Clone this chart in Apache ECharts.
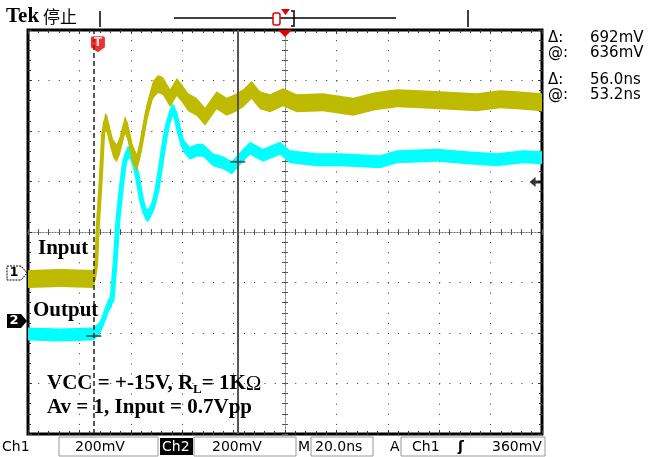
<!DOCTYPE html>
<html>
<head>
<meta charset="utf-8">
<title>Tek</title>
<script src="https://cdn.jsdelivr.net/npm/echarts@6/dist/echarts.min.js"></script>
<style>
  html, body { margin: 0; padding: 0; background: #fff; }
  #chart { width: 650px; height: 457px; }
</style>
</head>
<body>
<div id="chart"></div>
<script>
  // time in ns (20 ns/div, trigger point = 0), level in screen divisions from the centre line
  const ch1Time  = [-100, -87.5, -74.3, -73.5, -72.8, -71.7, -70.8, -70.0, -69.2, -68.1, -66.9, -65.5, -64.2, -62.3, -61.1, -59.5, -57.7, -56.4, -53.8, -51.4, -49.4, -47.5, -44.7, -42.1, -40.1, -37.7, -34.4, -31.1, -29.2, -26.6, -22.7, -19.5, -16.3, -13.0, -9.7, -5.8, -0.8, 4.6, 14.8, 26.5, 35.0, 43.6, 52.5, 60.3, 74.7, 83.7, 90.3, 100];
  const ch1Level = [-0.93, -0.91, -0.93, -0.65, 0.14, 1.03, 1.92, 2.18, 2.14, 1.88, 1.66, 1.56, 1.72, 2.12, 1.98, 1.58, 1.37, 1.62, 2.36, 2.81, 2.93, 2.89, 2.65, 2.87, 2.75, 2.57, 2.48, 2.28, 2.42, 2.61, 2.48, 2.55, 2.65, 2.81, 2.61, 2.55, 2.67, 2.55, 2.57, 2.48, 2.59, 2.65, 2.63, 2.61, 2.57, 2.63, 2.61, 2.57];

  const ch2Time  = [-100, -87.5, -74.7, -72.0, -70.4, -68.9, -67.3, -66.1, -65.0, -63.8, -62.6, -61.5, -60.3, -59.1, -57.7, -55.8, -54.5, -53.3, -51.4, -49.8, -48.0, -46.7, -45.5, -43.9, -42.8, -41.6, -39.7, -37.0, -34.2, -31.9, -28.0, -24.1, -20.7, -16.3, -13.6, -8.6, -1.9, 1.9, 12.5, 21.4, 37.0, 43.6, 59.1, 70.8, 82.5, 92.6, 100];
  const ch2Level = [-2.02, -2.04, -2.02, -1.90, -1.70, -1.47, -1.35, -0.61, 0.24, 0.83, 1.33, 1.56, 1.58, 1.43, 1.17, 0.63, 0.38, 0.32, 0.50, 0.83, 1.43, 1.86, 2.16, 2.42, 2.36, 2.08, 1.72, 1.56, 1.62, 1.62, 1.43, 1.37, 1.27, 1.52, 1.66, 1.52, 1.66, 1.49, 1.43, 1.43, 1.39, 1.49, 1.52, 1.47, 1.43, 1.49, 1.47];

  const cursorTime  = [-74.4, -18.4];
  const cursorLevel = [-2.06, 1.39];
  const triggerMark = [-72.8, 3.72];
  const trigLevelMark = [97.5, 0.99];

  const readLabels = ['Δ:', '@:', 'Δ:', '@:'];
  const readValues = ['692mV', '636mV', '56.0ns', '53.2ns'];

  const yellow = '#bdba00';
  const cyan = '#00ffff';

  let myChart = echarts.init(document.getElementById('chart'));

  function frameX(pos, grid) {
    return {
      type: 'value', min: -100, max: 100, interval: 20, position: pos,
      axisLine: { show: false, onZero: false },
      axisTick: { show: true, inside: true, length: 4, lineStyle: { color: '#333' } },
      minorTick: { show: true, splitNumber: 5, length: 3, lineStyle: { color: '#333' } },
      axisLabel: { show: false },
      splitLine: { show: grid, lineStyle: { color: '#333', width: 1, type: [1, 9.1] } }
    };
  }
  function frameY(pos, grid) {
    return {
      type: 'value', min: -4, max: 4, interval: 1, position: pos,
      axisLine: { show: false, onZero: false },
      axisTick: { show: true, inside: true, length: 4, lineStyle: { color: '#333' } },
      minorTick: { show: true, splitNumber: 5, length: 3, lineStyle: { color: '#333' } },
      axisLabel: { show: false },
      splitLine: { show: grid, lineStyle: { color: '#333', width: 1, type: [1, 9.28] } }
    };
  }
  // the centre cross of the graticule, ticks on both sides
  function centreX(pos) {
    return {
      type: 'value', min: -100, max: 100, interval: 20, position: pos,
      axisLine: { show: true, onZero: true, onZeroAxisIndex: 0, lineStyle: { color: '#777', width: 1, type: [1, 2] } },
      axisTick: { show: true, length: 3, lineStyle: { color: '#555' } },
      minorTick: { show: true, splitNumber: 5, length: 3, lineStyle: { color: '#555' } },
      axisLabel: { show: false },
      splitLine: { show: false }
    };
  }
  function centreY(pos) {
    return {
      type: 'value', min: -4, max: 4, interval: 1, position: pos,
      axisLine: { show: true, onZero: true, onZeroAxisIndex: 0, lineStyle: { color: '#777', width: 1, type: [1, 2] } },
      axisTick: { show: true, length: 3, lineStyle: { color: '#555' } },
      minorTick: { show: true, splitNumber: 5, length: 3, lineStyle: { color: '#555' } },
      axisLabel: { show: false },
      splitLine: { show: false }
    };
  }

  // noisy trace: vertical band around the read levels plus a core line
  function trace(name, times, levels, color, halfBand, core) {
    return {
      name: name, type: 'custom', z: 3, silent: true,
      data: [[times[0], levels[0]]],
      renderItem: function (params, api) {
        let pts = times.map((t, i) => api.coord([t, levels[i]]));
        let up = pts.map(p => [p[0], p[1] - halfBand]);
        let lo = pts.map(p => [p[0], p[1] + halfBand]).reverse();
        return {
          type: 'group',
          children: [
            { type: 'polygon', shape: { points: up.concat(lo) }, style: { fill: color } },
            { type: 'polyline', shape: { points: pts }, style: { stroke: color, lineWidth: core, fill: null, lineJoin: 'round' } }
          ]
        };
      }
    };
  }

  const serif = 'bold 21px "Liberation Serif", "Times New Roman", serif';
  const sans = '14px "DejaVu Sans", sans-serif';

  let graphics = [
    // header
    { type: 'text', x: 6, y: 17, style: { text: 'Tek', font: 'bold 21px "Liberation Serif", serif', fill: '#000', verticalAlign: 'middle' } },
    { type: 'text', x: 43, y: 17, style: { text: '停止', font: '17px "Noto Sans CJK SC", sans-serif', fill: '#000', verticalAlign: 'middle' } },
    { type: 'line', shape: { x1: 100, y1: 11, x2: 100, y2: 27 }, style: { stroke: '#000', lineWidth: 1.5 } },
    { type: 'line', shape: { x1: 468, y1: 10, x2: 468, y2: 27 }, style: { stroke: '#000', lineWidth: 1.5 } },
    { type: 'line', shape: { x1: 174, y1: 18, x2: 396, y2: 18 }, style: { stroke: '#000', lineWidth: 1.5 } },
    { type: 'rect', shape: { x: 273, y: 13, width: 7, height: 12, r: 2 }, style: { stroke: '#e00000', fill: '#fff', lineWidth: 1.5 } },
    { type: 'polygon', shape: { points: [[281, 9], [290, 9], [285.5, 15]] }, style: { fill: '#e00000' } },
    { type: 'polyline', shape: { points: [[291, 11], [294, 11], [294, 26], [291, 26]] }, style: { stroke: '#000', lineWidth: 1.5, fill: null } },
    // trigger position marker under the top frame
    { type: 'polygon', z: 10, shape: { points: [[278, 30], [292, 30], [285, 37]] }, style: { fill: '#e00000' } },
    // channel ground markers
    { type: 'polygon', shape: { points: [[7, 266], [21, 266], [27, 273], [21, 280], [7, 280]] }, style: { fill: '#fff', stroke: '#000', lineWidth: 1, lineDash: [2, 1] } },
    { type: 'text', x: 14, y: 273, style: { text: '1', font: 'bold 13px "DejaVu Sans", sans-serif', fill: '#000', align: 'center', verticalAlign: 'middle' } },
    { type: 'polygon', shape: { points: [[7, 314], [21, 314], [27, 321], [21, 328], [7, 328]] }, style: { fill: '#000' } },
    { type: 'text', x: 14, y: 321, style: { text: '2', font: 'bold 13px "DejaVu Sans", sans-serif', fill: '#fff', align: 'center', verticalAlign: 'middle' } },
    // annotations
    { type: 'text', z: 20, x: 38, y: 249, style: { text: 'Input', font: serif, fill: '#000', verticalAlign: 'middle' } },
    { type: 'text', z: 20, x: 33, y: 311, style: { text: 'Output', font: serif, fill: '#000', verticalAlign: 'middle' } },
    { type: 'text', z: 20, x: 47, y: 384, style: {
      text: '{a|VCC = +-15V, R}{s|L}{a|= 1K}{o|Ω}',
      rich: {
        a: { font: serif, fill: '#000', lineHeight: 24 },
        s: { font: 'bold 13px "Liberation Serif", serif', fill: '#000', lineHeight: 24, verticalAlign: 'bottom' },
        o: { font: '21px "Liberation Serif", serif', fill: '#000', lineHeight: 24 }
      },
      verticalAlign: 'middle'
    } },
    { type: 'text', z: 20, x: 47, y: 408, style: { text: 'Av = 1, Input = 0.7Vpp', font: serif, fill: '#000', verticalAlign: 'middle' } },
    // status bar
    { type: 'text', x: 2, y: 447, style: { text: 'Ch1', font: sans, fill: '#000', verticalAlign: 'middle' } },
    { type: 'rect', shape: { x: 59, y: 437, width: 99, height: 19 }, style: { stroke: '#999', fill: null, lineWidth: 1 } },
    { type: 'text', x: 75, y: 447, style: { text: '200mV', font: sans, fill: '#000', verticalAlign: 'middle' } },
    { type: 'rect', shape: { x: 160, y: 438, width: 33, height: 17 }, style: { fill: '#000' } },
    { type: 'text', x: 162, y: 447, style: { text: 'Ch2', font: sans, fill: '#fff', verticalAlign: 'middle' } },
    { type: 'rect', shape: { x: 194, y: 437, width: 102, height: 19 }, style: { stroke: '#999', fill: null, lineWidth: 1 } },
    { type: 'text', x: 212, y: 447, style: { text: '200mV', font: sans, fill: '#000', verticalAlign: 'middle' } },
    { type: 'text', x: 298, y: 447, style: { text: 'M', font: sans, fill: '#000', verticalAlign: 'middle' } },
    { type: 'rect', shape: { x: 311, y: 437, width: 62, height: 19 }, style: { stroke: '#999', fill: null, lineWidth: 1 } },
    { type: 'text', x: 315, y: 447, style: { text: '20.0ns', font: sans, fill: '#000', verticalAlign: 'middle' } },
    { type: 'text', x: 390, y: 447, style: { text: 'A', font: sans, fill: '#000', verticalAlign: 'middle' } },
    { type: 'rect', shape: { x: 401, y: 437, width: 144, height: 19 }, style: { stroke: '#999', fill: null, lineWidth: 1 } },
    { type: 'text', x: 412, y: 447, style: { text: 'Ch1', font: sans, fill: '#000', verticalAlign: 'middle' } },
    { type: 'text', x: 458, y: 447, style: { text: 'ʃ', font: 'bold 14px "DejaVu Sans", sans-serif', fill: '#000', verticalAlign: 'middle' } },
    { type: 'text', x: 492, y: 447, style: { text: '360mV', font: sans, fill: '#000', verticalAlign: 'middle' } }
  ];
  // cursor readouts on the right
  const readY = [38, 53, 80, 95];
  readLabels.forEach((lab, i) => {
    graphics.push({ type: 'text', x: 548, y: readY[i], style: { text: lab, font: '15px "DejaVu Sans", sans-serif', fill: '#000', verticalAlign: 'middle' } });
    graphics.push({ type: 'text', x: 590, y: readY[i], style: { text: readValues[i], font: '15px "DejaVu Sans", sans-serif', fill: '#000', verticalAlign: 'middle' } });
  });

  let option = {
    animation: false,
    backgroundColor: '#fff',
    grid: { left: 28, right: 108, top: 30, bottom: 23, show: true, borderColor: '#000', borderWidth: 3, backgroundColor: 'transparent' },
    xAxis: [frameX('bottom', true), frameX('top', false), centreX('bottom'), centreX('top')],
    yAxis: [frameY('left', true), frameY('right', false), centreY('left'), centreY('right')],
    graphic: graphics,
    series: [
      trace('Ch2', ch2Time, ch2Level, cyan, 6.5, 5),
      trace('Ch1', ch1Time, ch1Level, yellow, 9, 4),
      {
        name: 'cursors', type: 'line', data: [], z: 5, silent: true,
        markLine: {
          symbol: 'none', silent: true, animation: false, label: { show: false },
          data: [
            { xAxis: cursorTime[0], lineStyle: { color: '#222', width: 1.5, type: [5, 3] } },
            { xAxis: cursorTime[1], lineStyle: { color: '#555', width: 2, type: 'solid' } }
          ]
        }
      },
      {
        name: 'cursor levels', type: 'scatter', z: 6, silent: true,
        symbol: 'rect', symbolSize: [15, 2],
        itemStyle: { color: '#444' },
        data: cursorTime.map((t, i) => [t, cursorLevel[i]])
      },
      {
        name: 'trigger', type: 'scatter', z: 7, silent: true,
        symbol: 'path://M0,2 Q0,0 2,0 L12,0 Q14,0 14,2 L14,11 L7,16 L0,11 Z', symbolSize: [14, 16],
        itemStyle: { color: '#e00000' },
        label: { show: true, position: 'inside', formatter: 'T', color: '#fff', fontWeight: 'bold', fontSize: 12, fontFamily: 'DejaVu Sans', offset: [0, -1] },
        data: [triggerMark]
      },
      {
        name: 'trigger level', type: 'scatter', z: 7, silent: true,
        symbol: 'path://M0,5 L6,0 L6,3.5 L12,3.5 L12,6.5 L6,6.5 L6,10 Z', symbolSize: [12, 10],
        itemStyle: { color: '#000' },
        data: [trigLevelMark]
      }
    ]
  };
  myChart.setOption(option);
</script>
</body>
</html>
